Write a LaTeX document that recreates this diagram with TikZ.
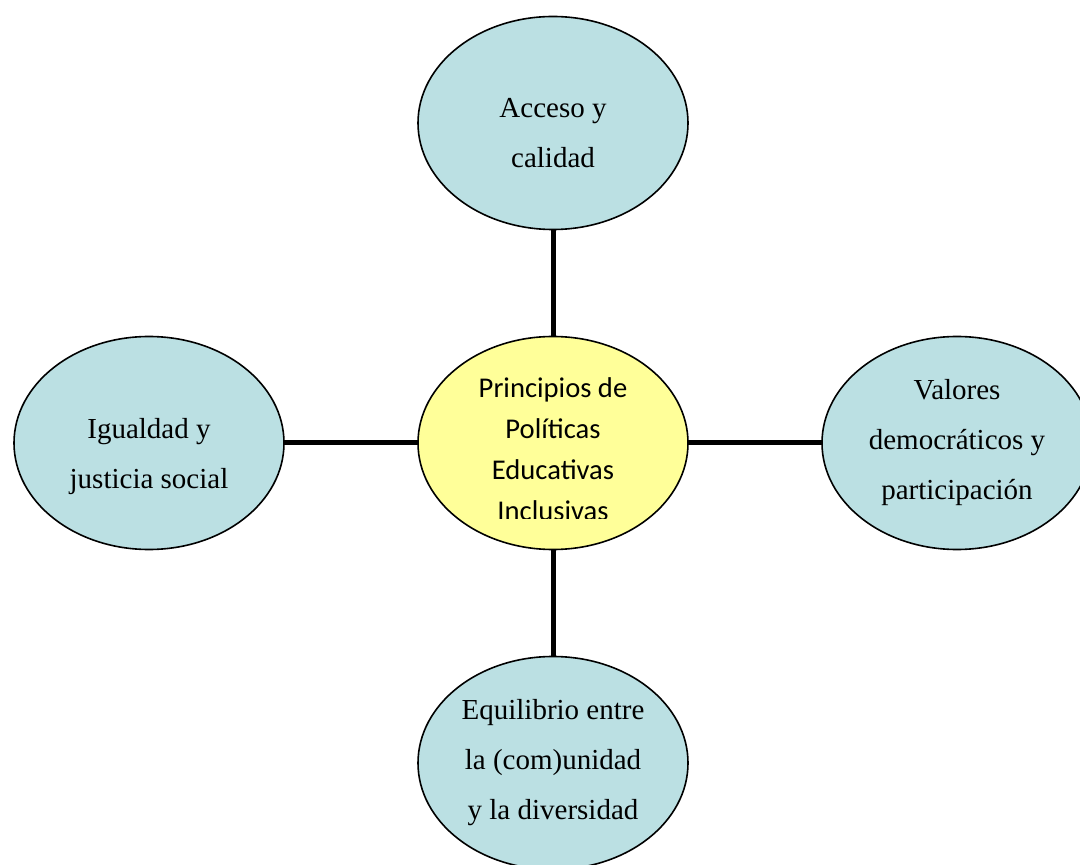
\documentclass[tikz,border=0pt]{standalone}
\usepackage{fontspec}
\setmainfont{Liberation Serif}
\newfontfamily\calibri{Carlito}
\usetikzlibrary{positioning,shapes}
\definecolor{azulclaro}{HTML}{BBE0E3}
\definecolor{amarillo}{HTML}{FFFF99}
\newcommand{\bajada}[1]{\rule{0pt}{#1}}
\tikzset{
    %Elipses de los principios
    principio/.style={
      ellipse,
      draw=black, line width=0.8pt,
      fill=azulclaro,
      minimum width=135pt,
      minimum height=106.5pt,
      inner sep=0pt, outer sep=0pt,
      align=center,
      font=\fontsize{14.5}{25}\selectfont},
    nucleo/.style={principio, fill=amarillo},
    titulo/.style={
      align=center,
      font=\calibri\fontsize{14.3}{20.5}\selectfont},
    enlace/.style={draw=black, line width=2.5pt}
}

\begin{document}
\begin{tikzpicture}[x=0.5pt,y=-0.5pt,node distance=53.5pt and 67pt]
    \useasboundingbox (0,0) rectangle (1080,865);
    \node (centro) [nucleo] at (553,443)
          {};
    \node (acceso) [principio] [above=of centro]
          {\bajada{20pt}Acceso y\\calidad}
          edge [enlace] (centro);
    \node (igualdad) [principio] [left=of centro]
          {\bajada{24pt}Igualdad y\\justicia social}
          edge [enlace] (centro);
    \node (valores) [principio] [right=of centro]
          {Valores\\democráticos y\\participación}
          edge [enlace] (centro);
    \node (equilibrio) [principio] [below=of centro]
          {Equilibrio entre\\la (com)unidad\\y la diversidad}
          edge [enlace] (centro);
    \begin{scope}
      \clip (418,330) rectangle (688,518);
      \node (lema) [titulo] at (553,449)
            {Principios de\\Políticas\\Educativas\\Inclusivas};
    \end{scope}
\end{tikzpicture}
\end{document}
